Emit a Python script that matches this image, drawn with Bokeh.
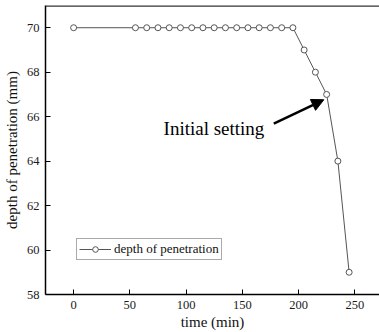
from bokeh.plotting import figure
from bokeh.models import Span, Arrow, NormalHead, Label, Range1d, FixedTicker, Legend
from bokeh.embed import file_html
from bokeh.resources import INLINE

time_min = [0, 55, 65, 75, 85, 95, 105, 115, 125, 135, 145, 155, 165, 175, 185, 195,
            205, 215, 225, 235, 245]
depth_mm = [70, 70, 70, 70, 70, 70, 70, 70, 70, 70, 70, 70, 70, 70, 70, 70,
            69, 68, 67, 64, 59]
x_ticks = [0, 50, 100, 150, 200, 250]
y_ticks = [58, 60, 62, 64, 66, 68, 70]
series_name = "depth of penetration"
annotation_text = "Initial setting"
arrow_tail = (178, 65.69)
arrow_head = (222.5, 66.76)
label_pos = (80, 65.46)

FONT = "Liberation Serif"
X_START, X_END = -25, 272
Y_START, Y_END = 58, 71

p = figure(width=379, height=332, output_backend="svg", toolbar_location=None,
           x_range=Range1d(X_START, X_END), y_range=Range1d(Y_START, Y_END),
           min_border_left=44, min_border_right=0, min_border_top=5, min_border_bottom=38)
p.outline_line_color = None
p.grid.visible = False
p.background_fill_color = "white"
p.border_fill_color = "white"

line = p.line(time_min, depth_mm, line_color="#555555", line_width=1)
pts = p.scatter(time_min, depth_mm, marker="circle", size=6, line_color="#555555",
                fill_color="white", line_width=1)

for ax in (p.xaxis[0], p.yaxis[0]):
    ax.axis_line_color = "black"
    ax.axis_line_width = 1.5
    ax.major_tick_in = 5
    ax.major_tick_out = 0
    ax.major_tick_line_color = "black"
    ax.major_tick_line_width = 1
    ax.minor_tick_line_color = None
    ax.major_label_text_font = FONT
    ax.major_label_text_font_size = "12.5px"
    ax.major_label_text_color = "#1a1a1a"
    ax.axis_label_text_font = FONT
    ax.axis_label_text_font_size = "15px"
    ax.axis_label_text_font_style = "normal"
    ax.axis_label_text_color = "#111111"

p.xaxis.ticker = FixedTicker(ticks=x_ticks)
p.yaxis.ticker = FixedTicker(ticks=y_ticks)
p.xaxis.axis_label = "time (min)"
p.yaxis.axis_label = "depth of penetration (mm)"
p.xaxis.major_label_standoff = 6
p.xaxis.axis_label_standoff = 2
p.yaxis.major_label_standoff = 6
p.yaxis.axis_label_standoff = 4

top = Span(location=Y_END, dimension="width", line_color="#333333", line_width=2.5)
p.add_layout(top)

p.add_layout(Label(x=label_pos[0], y=label_pos[1], text=annotation_text,
                   text_font=FONT, text_font_size="19px", text_color="black",
                   text_baseline="alphabetic"))
p.add_layout(Arrow(x_start=arrow_tail[0], y_start=arrow_tail[1],
                   x_end=arrow_head[0], y_end=arrow_head[1],
                   line_color="black", line_width=2.5,
                   end=NormalHead(size=12, fill_color="black", line_color="black")))

legend = Legend(items=[(series_name, [line, pts])], location=(31, 34))
legend.label_text_font = FONT
legend.label_text_font_size = "13px"
legend.label_text_color = "#111111"
legend.border_line_color = "#555555"
legend.border_line_width = 1
legend.padding = 2
legend.margin = 0
legend.spacing = 0
legend.glyph_width = 32
legend.glyph_height = 14
legend.label_standoff = 3
legend.label_height = 14
legend.background_fill_alpha = 1
p.add_layout(legend)

open("out.html", "w").write(file_html(p, INLINE))
